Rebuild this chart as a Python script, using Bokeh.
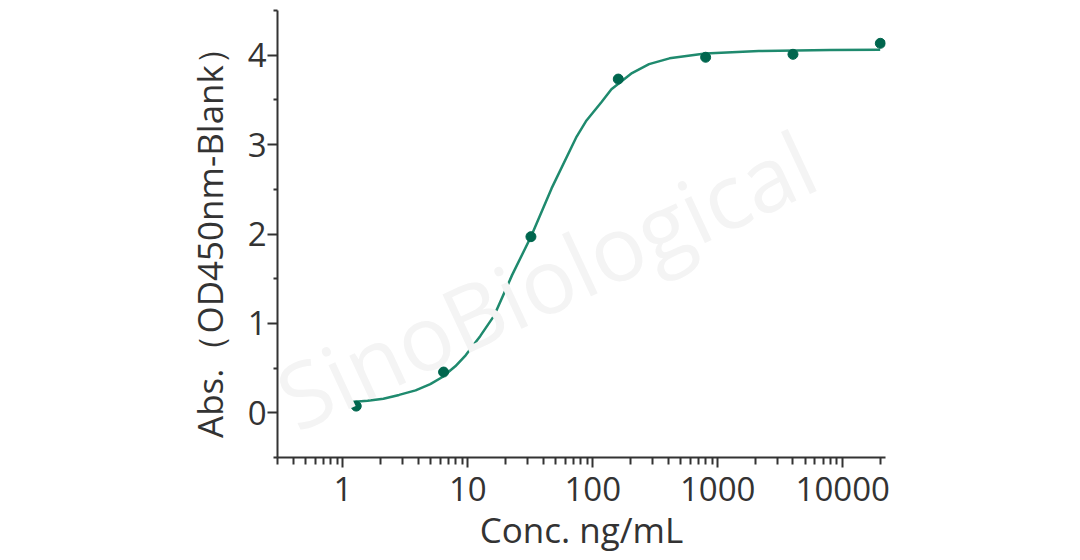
from bokeh.plotting import figure
from bokeh.models import FixedTicker, Label, CustomJSTickFormatter
from bokeh.embed import file_html
from bokeh.resources import INLINE

# Measured points (concentration ng/mL, OD450nm - blank)
conc = [1.28, 6.4, 32, 160, 800, 4000, 20000]
absorb = [0.075, 0.456, 1.97, 3.733, 3.977, 4.01, 4.133]

# Fitted curve
curve_conc = [1.17, 1.58, 2.11, 2.82, 3.82, 5.01, 6.27, 7.94, 9.61, 12.6, 16.3,
              22.6, 32.0, 46.8, 74.3, 89.1, 118, 141, 206, 282, 411, 794, 2133,
              7943, 19950]
curve_abs = [0.12, 0.135, 0.158, 0.20, 0.251, 0.32, 0.40, 0.52, 0.643, 0.86, 1.09,
             1.54, 1.97, 2.51, 3.09, 3.27, 3.48, 3.62, 3.80, 3.90, 3.965, 4.02, 4.047,
             4.058, 4.06]

x_major = [1, 10, 100, 1000, 10000]
x_minor = [m * d for d in [0.1, 1, 10, 100, 1000] for m in range(2, 10) if 0.3 <= m * d] + [20000]
y_major = [0, 1, 2, 3, 4]
y_minor = [-0.5, 0.5, 1.5, 2.5, 3.5, 4.5]

FONT = "Open Sans"
TXT = "#333333"
AX = "#333333"

p = figure(x_axis_type="log", x_range=(0.3, 22000), y_range=(-0.5, 4.5),
           frame_width=608, frame_height=447,
           min_border_left=277, min_border_top=10, min_border_right=10, min_border_bottom=10,
           output_backend="svg", toolbar_location=None)
p.outline_line_color = None
p.grid.visible = False
p.background_fill_color = "white"

wm = Label(x=42, y=1.5, text="SinoBiological", angle=25, angle_units="deg",
           text_align="center", text_baseline="middle", text_font=FONT,
           text_font_size="90px", text_color="#f4f4f4")
p.add_layout(wm)

p.line(curve_conc, curve_abs, line_color="#1f8a6e", line_width=2.5)
p.scatter(conc, absorb, size=10, fill_color="#00664e", line_color="#00664e")

xa = p.xaxis[0]
xa.ticker = FixedTicker(ticks=x_major, minor_ticks=x_minor)
xa.formatter = CustomJSTickFormatter(code="return tick.toFixed(0);")
xa.axis_label = "Conc. ng/mL"

ya = p.yaxis[0]
ya.ticker = FixedTicker(ticks=y_major, minor_ticks=y_minor)
ya.axis_label = "Abs.（OD450nm-Blank）"

for ax in (xa, ya):
    ax.axis_line_color = AX
    ax.axis_line_width = 2
    ax.major_tick_line_color = AX
    ax.minor_tick_line_color = AX
    ax.major_tick_line_width = 2
    ax.minor_tick_line_width = 2
    ax.major_tick_out = 10
    ax.major_tick_in = 0
    ax.minor_tick_in = 0
    ax.major_label_text_font = FONT
    ax.major_label_text_font_size = "33px"
    ax.major_label_text_color = TXT
    ax.axis_label_text_font = FONT
    ax.axis_label_text_font_size = "35px"
    ax.axis_label_text_font_style = "normal"
    ax.axis_label_text_color = TXT

xa.minor_tick_out = 7
ya.minor_tick_out = 4
xa.major_label_standoff = 9
ya.major_label_standoff = 1
xa.axis_label_standoff = 2
ya.axis_label_standoff = 12

open("out.html", "w").write(file_html(p, INLINE))
